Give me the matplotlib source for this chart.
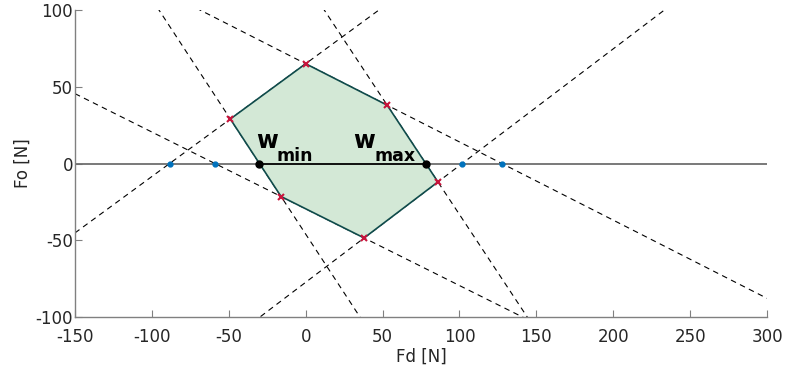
import numpy as np
import matplotlib.pyplot as plt
from matplotlib.patches import Polygon
from matplotlib.transforms import offset_copy

plt.rcParams['font.family'] = 'DejaVu Sans'
plt.rcParams['axes.unicode_minus'] = False

# feasible wrench polygon vertices (Fd, Fo) in N
vert_fd = [0, 53, 86, 38, -16, -49]
vert_fo = [65, 38, -12, -48.5, -21.5, 29]

x_ticks = [-150, -100, -50, 0, 50, 100, 150, 200, 250, 300]
y_ticks = [-100, -50, 0, 50, 100]

fig = plt.figure(figsize=(7.87, 3.76), dpi=100)
ax = fig.add_axes([0.0953, 0.1569, 0.8793, 0.8165])
ax.set_xlim(-150, 300)
ax.set_ylim(-100, 100)

vx = np.array(vert_fd, dtype=float)
vy = np.array(vert_fo, dtype=float)
n = len(vx)

# constraint lines: each polygon edge extended over the whole plot
xs = np.array([-150.0, 300.0])
roots, crossing = [], []
for i in range(n):
    x0, y0 = vx[i], vy[i]
    x1, y1 = vx[(i + 1) % n], vy[(i + 1) % n]
    k = (y1 - y0) / (x1 - x0)
    ax.plot(xs, y0 + k * (xs - x0), ls=(0, (5, 4)), color='k', lw=0.8, zorder=1)
    r = x0 - y0 / k
    if y0 * y1 < 0:
        crossing.append(r)   # edge cuts Fo = 0
    else:
        roots.append(r)

w_min, w_max = min(crossing), max(crossing)

ax.axhline(0, color='#6e6e6e', lw=1.3, zorder=2)
ax.add_patch(Polygon(np.column_stack([vx, vy]), closed=True, facecolor='#d3e8d6',
                     edgecolor='#0f4b4b', lw=1.2, zorder=3))
ax.plot([w_min, w_max], [0, 0], color='k', lw=1.3, zorder=4)

ax.plot(roots, np.zeros(len(roots)), 'o', color='#0072bd', ms=3.5, zorder=5)
ax.plot(vx, vy, 'x', color='#c8143c', ms=5, mew=1.5, zorder=5)
ax.plot([w_min, w_max], [0, 0], 'o', color='k', ms=5, zorder=6)


def w_label(x, sub):
    # big bold "w" with a low, fairly large subscript
    ax.text(x, 10, 'w', fontsize=17, fontweight='bold', color='k', zorder=7)
    tr = offset_copy(ax.transData, fig=fig, x=15, y=-9, units='points')
    ax.text(x, 10, sub, fontsize=12.5, fontweight='bold', color='k',
            transform=tr, zorder=7)


w_label(w_min - 2.3, 'min')
w_label(w_max - 47, 'max')

for side in ('top', 'right'):
    ax.spines[side].set_visible(False)
for side in ('left', 'bottom'):
    ax.spines[side].set_color('#808080')
    ax.spines[side].set_linewidth(1.0)

ax.set_xticks(x_ticks)
ax.set_yticks(y_ticks)
ax.tick_params(direction='in', length=5, colors='#808080', labelcolor='#262626',
               labelsize=12)
ax.tick_params(axis='x', pad=8)
ax.tick_params(axis='y', pad=1.5)
ax.set_xlabel('Fd [N]', fontsize=12, color='#262626', labelpad=1)
ax.set_ylabel('Fo [N]', fontsize=12, color='#262626', labelpad=3)

fig.savefig('out.png', dpi=100)
